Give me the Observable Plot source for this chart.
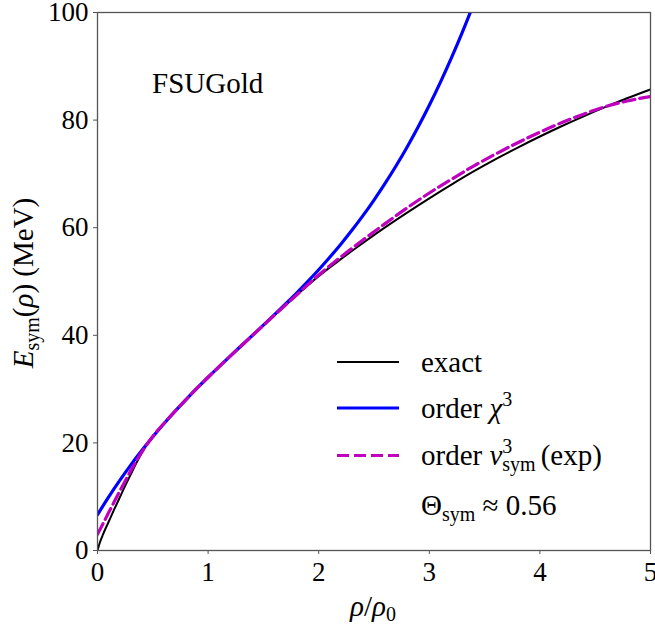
<!DOCTYPE html>
<html><head><meta charset="utf-8">
<script src="https://cdn.jsdelivr.net/npm/d3@7"></script>
<script src="https://cdn.jsdelivr.net/npm/@observablehq/plot@0.6"></script>
<style>body{margin:0;background:#fff} svg{display:block} #chart svg, #chart svg text {font-family: "Liberation Serif", "Times New Roman", serif !important;}</style>
</head><body><div id="chart"></div>
<script>
// ---- data ----
const xTicks = [0, 1, 2, 3, 4, 5];
const yTicks = [0, 20, 40, 60, 80, 100];

const rhoExact = [0,0.02,0.05,0.1,0.15,0.2,0.25,0.3,0.35,0.4,0.45,0.5,0.6,0.7,0.8,0.9,1.0,1.1,1.2,1.3,1.4,1.5,1.6,1.7,1.8,1.9,2.0,2.2,2.4,2.6,2.8,3.0,3.2,3.4,3.6,3.8,4.0,4.2,4.4,4.6,4.8,5.0];
const eExact = [0,1.4,3.0,5.3,7.6,9.8,12.0,14.1,16.2,18.1,19.8,21.2,23.6,25.85,28.05,30.16,32.2,34.18,36.13,38.05,39.95,41.85,43.75,45.6,47.45,49.25,51.0,54.15,57.15,60.05,62.8,65.45,68.0,70.45,72.75,74.9,76.95,78.9,80.75,82.5,84.15,85.7];

const rhoChi = [0,0.1,0.2,0.3,0.4,0.5,0.6,0.7,0.8,0.9,1.0,1.1,1.2,1.3,1.4,1.5,1.6,1.7,1.8,1.9,2.0,2.1,2.2,2.3,2.4,2.5,2.6,2.7,2.8,2.9,3.0,3.1,3.2,3.3,3.4];
const eChi = [6.65,9.92,12.98,15.86,18.57,21.13,23.55,25.85,28.05,30.16,32.2,34.18,36.13,38.05,39.96,41.88,43.83,45.82,47.86,49.98,52.19,54.51,56.94,59.51,62.24,65.14,68.23,71.52,75.01,78.75,82.75,87.01,91.55,96.39,101.55];

const rhoNu = [0,0.05,0.1,0.15,0.2,0.25,0.3,0.35,0.4,0.45,0.5,0.6,0.7,0.8,0.9,1.0,1.1,1.2,1.3,1.4,1.5,1.6,1.8,2.0,2.2,2.4,2.6,2.8,3.0,3.2,3.4,3.6,3.8,4.0,4.2,4.4,4.6,4.8,5.0];
const eNu = [3.0,5.0,7.0,9.0,11.0,12.9,14.8,16.6,18.3,19.8,21.2,23.6,25.85,28.05,30.16,32.2,34.18,36.13,38.05,39.95,41.85,43.75,47.5,51.2,54.55,57.7,60.75,63.7,66.45,69.0,71.45,73.7,75.8,77.75,79.55,81.15,82.55,83.6,84.4];

const FONT = '"Liberation Serif", "Times New Roman", serif';
const FS_TICK = 27;
const FS = 29;
const FS_SUB = 20;
const C_EXACT = "#000000", C_CHI = "#0000ff", C_NU = "#bf00bf";

const toRows = (xs, ys) => xs.map((x, i) => ({x, y: ys[i]}));
const exact = toRows(rhoExact, eExact);
const chi = toRows(rhoChi, eChi);
const nu = toRows(rhoNu, eNu);

const chart = Plot.plot({
  width: 655, height: 628,
  marginLeft: 97, marginRight: 5, marginTop: 12, marginBottom: 78,
  style: {fontFamily: FONT, fontSize: FS_TICK + "px", color: "black", background: "white"},
  x: {domain: [0, 5]},
  y: {domain: [0, 100]},
  marks: [
    Plot.line(exact, {x: "x", y: "y", stroke: C_EXACT, strokeWidth: 2, curve: "monotone-x", clip: true}),
    Plot.line(chi, {x: "x", y: "y", stroke: C_CHI, strokeWidth: 3.2, curve: "monotone-x", clip: true}),
    Plot.line(nu, {x: "x", y: "y", stroke: C_NU, strokeWidth: 3.2, strokeDasharray: "12,5", curve: "monotone-x", clip: true}),
    Plot.frame({stroke: "#555", strokeWidth: 1.3}),
    Plot.axisX({ticks: xTicks, tickSize: 4, tickPadding: 7, label: null, stroke: "#555", fill: "black", tickFormat: d => String(d)}),
    Plot.axisY({ticks: yTicks, tickSize: 4, tickPadding: 5, label: null, stroke: "#555", fill: "black", tickFormat: d => String(d)})
  ]
});
document.getElementById("chart").append(chart);

const svg = d3.select(chart);

// rich text helper: parts {t, italic, size, shift (px up)}
function rich(x, y, parts, opts = {}) {
  const t = svg.append("text").attr("x", x).attr("y", y)
    .style("font-family", FONT).style("font-size", (opts.size || FS) + "px").attr("fill", "black")
    .attr("text-anchor", opts.anchor || "start");
  if (opts.transform) t.attr("transform", opts.transform);
  let cur = 0;
  const nodes = [];
  for (const p of parts) {
    const s = t.append("tspan").text(p.t);
    if (p.italic) s.style("font-style", "italic");
    if (p.size) s.style("font-size", p.size + "px");
    const target = -(p.shift || 0);
    if (p.stackOn != null) {
      const ref = nodes[p.stackOn].node();
      s.attr("x", ref.getStartPositionOfChar(0).x);
    }
    if (p.after != null) {
      let mx = -Infinity;
      for (const i of p.after) {
        const n = nodes[i].node();
        const k = n.getNumberOfChars();
        mx = Math.max(mx, n.getEndPositionOfChar(k - 1).x);
      }
      s.attr("x", mx + (p.gap || 0));
    }
    s.attr("dy", target - cur);
    cur = target;
    nodes.push(s);
  }
  return t;
}

// axis labels
rich(373, 616, [
  {t: "ρ", italic: true}, {t: "/"}, {t: "ρ", italic: true}, {t: "0", size: FS_SUB, shift: -5}
], {anchor: "middle"});

rich(0, 0, [
  {t: "E", italic: true}, {t: "sym", size: FS_SUB, shift: -6}, {t: "(", shift: 0}, {t: "ρ", italic: true}, {t: ")"}, {t: " (MeV)"}
], {anchor: "middle", transform: "translate(33,283) rotate(-90)"});

// model name
rich(152, 93, [{t: "FSUGold"}]);

// legend
const legend = [
  {y: 362, color: C_EXACT, w: 2, dash: null},
  {y: 408, color: C_CHI, w: 3.2, dash: null},
  {y: 455.5, color: C_NU, w: 3.2, dash: "12,5"}
];
for (const l of legend) {
  const ln = svg.append("line").attr("x1", 337).attr("x2", 399).attr("y1", l.y).attr("y2", l.y)
    .attr("stroke", l.color).attr("stroke-width", l.w);
  if (l.dash) ln.attr("stroke-dasharray", l.dash);
}
rich(421, 371.5, [{t: "exact"}]);
rich(421, 418, [{t: "order "}, {t: "χ", italic: true}, {t: "3", size: FS_SUB, shift: 12}]);
rich(421, 465, [
  {t: "order "}, {t: "ν", italic: true},
  {t: "3", size: FS_SUB, shift: 12},
  {t: "sym", size: FS_SUB, shift: -6, stackOn: 2},
  {t: "(exp)", shift: 0, after: [2, 3], gap: 5}
]);
rich(421, 515, [{t: "Θ"}, {t: "sym", size: FS_SUB, shift: -6}, {t: " ≈ 0.56", shift: 0}]);
</script>
</body></html>
